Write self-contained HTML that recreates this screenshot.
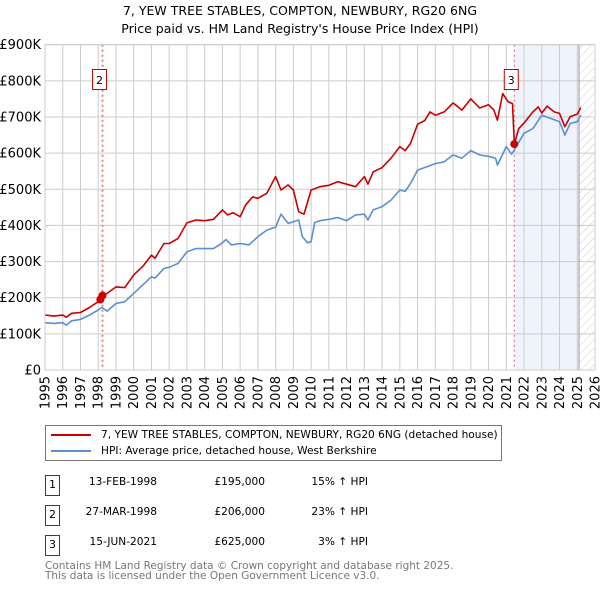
<!DOCTYPE html>
<html><head><meta charset="utf-8"><style>
body{margin:0;background:#fff;font-family:"DejaVu Sans","Liberation Sans",sans-serif;}
#wrap{position:relative;width:600px;height:590px;overflow:hidden;}
.t{position:absolute;font-size:12.5px;color:#000;white-space:nowrap;}
.r{position:absolute;font-size:10.6px;color:#000;white-space:nowrap;text-align:right;}
</style></head><body>
<div id="wrap">
<svg id="chart" width="600" height="590" style="position:absolute;left:0;top:0"></svg>
</div>
<script>
const years=[1995,1996,1997,1998,1999,2000,2001,2002,2003,2004,2005,2006,2007,2008,2009,2010,2011,2012,2013,2014,2015,2016,2017,2018,2019,2020,2021,2022,2023,2024,2025,2026];
const yTicks=[0,100,200,300,400,500,600,700,800,900];
const yTickLabels=["£0","£100K","£200K","£300K","£400K","£500K","£600K","£700K","£800K","£900K"];
const hpiT=[1995,1995.5,1996,1996.2,1996.5,1997,1997.5,1998,1998.2,1998.5,1999,1999.5,2000,2000.5,2001,2001.2,2001.7,2002,2002.5,2003,2003.5,2004,2004.5,2005,2005.2,2005.5,2006,2006.5,2007,2007.5,2008,2008.3,2008.7,2009,2009.3,2009.5,2009.8,2010,2010.2,2010.5,2011,2011.5,2012,2012.5,2013,2013.2,2013.5,2014,2014.5,2015,2015.3,2015.6,2016,2016.5,2017,2017.5,2018,2018.5,2019,2019.5,2020,2020.4,2020.5,2021,2021.3,2021.5,2022,2022.5,2023,2023.5,2024,2024.3,2024.6,2025,2025.2];
const hpiV=[131,129,131,124,136,140,152,166,173,163,184,189,212,235,258,254,281,284,295,327,336,336,336,352,361,346,350,346,369,387,395,431,406,410,415,369,352,355,408,413,417,422,413,429,431,415,443,452,470,498,494,516,553,562,571,576,595,586,607,595,591,586,567,618,597,613,655,668,705,696,687,650,682,687,705];
const redT=[1995,1995.5,1996,1996.2,1996.5,1997,1997.5,1998,1998.24,1998.5,1999,1999.5,2000,2000.5,2001,2001.2,2001.7,2002,2002.5,2003,2003.5,2004,2004.5,2005,2005.3,2005.6,2006,2006.3,2006.7,2007,2007.5,2008,2008.3,2008.7,2009,2009.3,2009.6,2010,2010.5,2011,2011.5,2012,2012.5,2013,2013.2,2013.5,2014,2014.5,2015,2015.3,2015.6,2016,2016.4,2016.7,2017,2017.5,2018,2018.5,2019,2019.5,2020,2020.3,2020.5,2020.8,2021.1,2021.35,2021.45,2021.7,2022,2022.5,2022.8,2023,2023.3,2023.7,2024,2024.3,2024.6,2025,2025.2];
const redV=[152,149,152,146,157,159,173,189,206,212,230,228,263,286,318,309,350,350,364,407,415,413,417,443,429,435,424,456,479,475,489,535,498,512,498,438,431,498,507,511,521,514,507,535,514,548,560,586,618,607,627,680,690,714,705,714,739,719,750,725,734,719,691,765,742,737,625,668,683,714,728,711,730,714,710,673,701,708,726];
const saleT=[1998.12,1998.24,2021.45];
const saleV=[195,206,625];
const saleLabels=["1","2","3"];

const L=45,R=595,T=44.7,B=370;
const X=t=>L+(t-1995)*(R-L)/31;
const Y=v=>B-v*(B-T)/900;
const svg=document.getElementById('chart');
const NS='http://www.w3.org/2000/svg';
function mk(tag,attrs,parent){const e=document.createElementNS(NS,tag);for(const k in attrs)e.setAttribute(k,attrs[k]);(parent||svg).appendChild(e);return e;}

const defs=mk('defs',{});
const pat=mk('pattern',{id:'hatch',width:6,height:6,patternUnits:'userSpaceOnUse',patternTransform:'rotate(45)'},defs);
mk('line',{x1:0,y1:0,x2:0,y2:6,stroke:'#ccc','stroke-width':1},pat);

let sh=mk('rect',{x:X(saleT[2]),y:T,width:X(2025.1)-X(saleT[2]),height:B-T,fill:'#eef3fc'});


let ht=mk('rect',{x:X(2025.1),y:T,width:R-X(2025.1),height:B-T,fill:'url(#hatch)'});



yTicks.forEach((v,i)=>{
  let g=mk('line',{x1:L,x2:R,y1:Y(v),y2:Y(v),stroke:'#ccc','stroke-width':1});
  
  
  let t=mk('text',{x:L-4,y:Y(v)+4.5,'text-anchor':'end','font-size':13,fill:'#000'});
  t.textContent=yTickLabels[i];
  
  
});
years.forEach(yr=>{
  let g=mk('line',{x1:X(yr),x2:X(yr),y1:T,y2:B,stroke:'#ccc','stroke-width':1});
  
  
  let t=mk('text',{x:0,y:0,'text-anchor':'end','font-size':13,fill:'#000',transform:`translate(${X(yr)+4.5},${B+6}) rotate(-90)`});
  t.textContent=yr;
  
  
});
mk('line',{x1:X(2025.1),x2:X(2025.1),y1:T,y2:B,stroke:'#999','stroke-width':1});

[1,2].forEach(i=>{
  let l=mk('line',{x1:X(saleT[i]),x2:X(saleT[i]),y1:T,y2:B,stroke:i==1?'#f08080':'#e06060','stroke-width':i==1?2:1,'stroke-dasharray':'2,3'});
  
  
});

function path(ts,vs){return ts.map((t,i)=>(i?'L':'M')+X(t).toFixed(1)+','+Y(vs[i]).toFixed(1)).join('');}
let hp=mk('path',{d:path(hpiT,hpiV),fill:'none',stroke:'#5b8fd4','stroke-width':1.6,'stroke-linejoin':'round'});


let rp=mk('path',{d:path(redT,redV),fill:'none',stroke:'#cc0000','stroke-width':1.6,'stroke-linejoin':'round'});



saleT.forEach((t,i)=>{
  let c=mk('circle',{cx:X(t),cy:Y(saleV[i]),r:4,fill:'#cc0000'});
  
  
});
[1,2].forEach(i=>{
  const cx=X(saleT[i])-3;
  let b=mk('rect',{x:cx-7,y:69.5,width:14,height:20,fill:'#fff',stroke:'#cc0000','stroke-width':1});
  
  
  let t=mk('text',{x:cx,y:84,'text-anchor':'middle','font-size':11,fill:'#000'});
  t.textContent=saleLabels[i];
  
  
});
mk('rect',{x:L,y:T,width:R-L,height:B-T,fill:'none',stroke:'#ccc','stroke-width':1});
</script>
<div class="t" style="left:0;width:600px;text-align:center;top:3px;font-size:12.5px">7, YEW TREE STABLES, COMPTON, NEWBURY, RG20 6NG</div>
<div class="t" style="left:0;width:600px;text-align:center;top:21px;font-size:12.5px">Price paid vs. HM Land Registry's House Price Index (HPI)</div>

<div style="position:absolute;left:45px;top:425px;width:457px;height:36px;border:1px solid #777;box-sizing:border-box;">
  <div style="position:absolute;left:5px;top:3px;font-size:10.6px;white-space:nowrap"><span style="display:inline-block;width:40px;height:2px;background:#cc0000;vertical-align:middle;margin-right:10px"></span>7, YEW TREE STABLES, COMPTON, NEWBURY, RG20 6NG (detached house)</div>
  <div style="position:absolute;left:5px;top:19px;font-size:10.6px;white-space:nowrap"><span style="display:inline-block;width:40px;height:2px;background:#5b8fd4;vertical-align:middle;margin-right:10px"></span>HPI: Average price, detached house, West Berkshire</div>
</div>

<div>
  <div>
    <div style="position:absolute;left:45px;top:475px;width:13px;height:19px;border:1px solid #cc0000;font-size:11px;text-align:center;line-height:17px">1</div>
    <div class="r" style="left:57px;width:100px;top:476px">13-FEB-1998</div>
    <div class="r" style="left:165px;width:100px;top:476px">£195,000</div>
    <div class="r" style="left:268px;width:100px;top:476px">15% ↑ HPI</div>
  </div>
  <div>
    <div style="position:absolute;left:45px;top:505px;width:13px;height:19px;border:1px solid #cc0000;font-size:11px;text-align:center;line-height:17px">2</div>
    <div class="r" style="left:57px;width:100px;top:506px">27-MAR-1998</div>
    <div class="r" style="left:165px;width:100px;top:506px">£206,000</div>
    <div class="r" style="left:268px;width:100px;top:506px">23% ↑ HPI</div>
  </div>
  <div>
    <div style="position:absolute;left:45px;top:535px;width:13px;height:19px;border:1px solid #cc0000;font-size:11px;text-align:center;line-height:17px">3</div>
    <div class="r" style="left:57px;width:100px;top:536px">15-JUN-2021</div>
    <div class="r" style="left:165px;width:100px;top:536px">£625,000</div>
    <div class="r" style="left:268px;width:100px;top:536px">3% ↑ HPI</div>
  </div>
</div>
<div class="t" style="left:45px;top:561px;font-size:10.5px;color:#777;line-height:10px">Contains HM Land Registry data © Crown copyright and database right 2025.<br>This data is licensed under the Open Government Licence v3.0.</div>
</body></html>
